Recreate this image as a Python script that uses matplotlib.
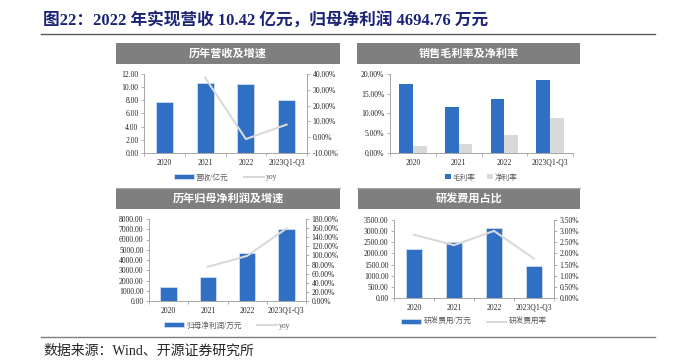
import numpy as np
import matplotlib
matplotlib.use('Agg')
import matplotlib.pyplot as plt
from matplotlib.patches import Rectangle
from matplotlib.ticker import FuncFormatter

plt.rcParams['font.family'] = ['Liberation Serif', 'Noto Sans CJK SC']

years = ['2020', '2021', '2022', '2023Q1-Q3']

revenue = [7.74, 10.60, 10.42, 8.04]          # 亿元
revenue_yoy = [None, 37.7, -1.2, 8.0]         # %

gross_margin = [17.55, 11.70, 13.75, 18.50]   # %
net_margin = [1.86, 2.30, 4.56, 8.78]         # %

net_profit = [1400, 2380, 4694.76, 7030]      # 万元
profit_yoy = [None, 75.0, 99.0, 159.0]        # %

rd_cost = [2220, 2530, 3160, 1450]            # 万元
rd_rate = [2.84, 2.37, 3.01, 1.77]            # %

W, H = 674, 361
BLUE = '#2F6FC4'
LGRAY = '#D9D9D9'
SPINE = '#A6A6A6'

fig = plt.figure(figsize=(W / 100, H / 100), dpi=100)


def box(x0, y0, x1, y1):
    return [x0 / W, 1 - y1 / H, (x1 - x0) / W, (y1 - y0) / H]


def hline(x0, x1, y, color, lw):
    fig.add_artist(plt.Line2D([x0 / W, x1 / W], [1 - y / H, 1 - y / H],
                              color=color, lw=lw, transform=fig.transFigure))


def title_box(x0, y0, x1, y1, text):
    fig.add_artist(Rectangle((x0 / W, 1 - y1 / H), (x1 - x0) / W, (y1 - y0) / H,
                             facecolor='#7F7F7F', edgecolor='none',
                             transform=fig.transFigure))
    fig.text((x0 + x1) / 2 / W, 1 - (y0 + y1) / 2 / H, text, color='white',
             fontsize=8, fontweight='bold', family='Noto Sans CJK SC',
             ha='center', va='center')


def style(ax, ax2):
    for a in (ax, ax2):
        for s in a.spines.values():
            s.set_color(SPINE)
            s.set_linewidth(0.7)
        a.spines['top'].set_visible(False)
        a.tick_params(axis='y', labelsize=5.5, colors=SPINE, labelcolor='#262626',
                      length=2, width=0.6, pad=2)
    ax.spines['right'].set_visible(False)
    ax2.spines['left'].set_visible(False)
    ax2.spines['bottom'].set_visible(False)
    x = np.arange(len(years))
    ax.set_xlim(-0.5, len(years) - 0.5)
    ax.set_xticks(np.arange(len(years) + 1) - 0.5)
    ax.set_xticklabels([])
    ax.tick_params(axis='x', which='major', length=2, width=0.6, colors=SPINE)
    ax.set_xticks(x, minor=True)
    ax.set_xticklabels(years, minor=True)
    ax.tick_params(axis='x', which='minor', length=0, labelsize=5.5,
                   labelcolor='#262626', pad=4)


def legend(ax, handles, labels, y):
    ax.legend(handles, labels, loc='center', bbox_to_anchor=(0.5, y),
              ncol=2, frameon=False, fontsize=5.5, handlelength=2.6,
              handleheight=0.6, columnspacing=2.0, handletextpad=0.3,
              labelcolor='#595959')


pct2 = FuncFormatter(lambda v, p: '%.2f%%' % v)
num2 = FuncFormatter(lambda v, p: '%.2f' % v)
x = np.arange(len(years))

# ---- main title / footer
fig.text(43 / W, 1 - 21 / H, '图22：2022 年实现营收 10.42 亿元，归母净利润 4694.76 万元',
         fontsize=12, fontweight='bold', color='#1C2478', va='center', ha='left')
hline(41, 655, 34, '#595959', 1.0)
hline(41, 655, 337, '#7F7F7F', 1.0)
fig.text(43 / W, 1 - 351 / H, '数据来源：Wind、开源证券研究所', fontsize=10,
         color='#262626', va='center', ha='left')

# ---- panel 1: revenue
title_box(116, 43, 340, 64, '历年营收及增速')
ax = fig.add_axes(box(144, 74, 307, 153))
ax2 = ax.twinx()
b = ax.bar(x, revenue, width=0.42, color=BLUE, edgecolor='#DCE6F2', linewidth=0.5)
yx = [i for i, v in enumerate(revenue_yoy) if v is not None]
l, = ax2.plot(yx, [revenue_yoy[i] for i in yx], color=LGRAY, lw=1.5)
ax.set_ylim(0, 12)
ax.set_yticks(np.arange(0, 12.1, 2))
ax.yaxis.set_major_formatter(num2)
ax2.set_ylim(-10, 40)
ax2.set_yticks(np.arange(-10, 40.1, 10))
ax2.yaxis.set_major_formatter(pct2)
style(ax, ax2)
legend(ax, [b, l], ['营收/亿元', 'yoy'], -0.31)
hline(116, 340, 188, '#A6A6A6', 0.8)

# ---- panel 2: margins
title_box(357, 43, 580, 64, '销售毛利率及净利率')
ax = fig.add_axes(box(390, 74, 573, 153))
ax2 = ax.twinx()
b1 = ax.bar(x - 0.15, gross_margin, width=0.3, color=BLUE)
b2 = ax.bar(x + 0.15, net_margin, width=0.3, color=LGRAY)
ax.set_ylim(0, 20)
ax.set_yticks(np.arange(0, 20.1, 5))
ax.yaxis.set_major_formatter(pct2)
ax2.set_yticks([])
style(ax, ax2)
ax2.spines['right'].set_visible(False)
ax.legend([b1, b2], ['毛利率', '净利率'], loc='center', bbox_to_anchor=(0.5, -0.31),
          ncol=2, frameon=False, fontsize=5.5, handlelength=0.7, handleheight=0.7,
          columnspacing=1.5, handletextpad=0.3, labelcolor='#595959')
hline(357, 580, 188, '#A6A6A6', 0.8)

# ---- panel 3: net profit
title_box(116, 188, 340, 209, '历年归母净利润及增速')
ax = fig.add_axes(box(149, 219, 306, 301))
ax2 = ax.twinx()
b = ax.bar(x, net_profit, width=0.42, color=BLUE, edgecolor='#DCE6F2', linewidth=0.5)
yx = [i for i, v in enumerate(profit_yoy) if v is not None]
l, = ax2.plot(yx, [profit_yoy[i] for i in yx], color=LGRAY, lw=1.5)
ax.set_ylim(0, 8000)
ax.set_yticks(np.arange(0, 8001, 1000))
ax.yaxis.set_major_formatter(num2)
ax2.set_ylim(0, 180)
ax2.set_yticks(np.arange(0, 180.1, 20))
ax2.yaxis.set_major_formatter(pct2)
style(ax, ax2)
legend(ax, [b, l], ['归母净利润/万元', 'yoy'], -0.30)

# ---- panel 4: R&D
title_box(358, 188, 580, 209, '研发费用占比')
ax = fig.add_axes(box(394, 220, 554, 298))
ax2 = ax.twinx()
b = ax.bar(x, rd_cost, width=0.42, color=BLUE, edgecolor='#DCE6F2', linewidth=0.5)
l, = ax2.plot(x, rd_rate, color=LGRAY, lw=1.5)
ax.set_ylim(0, 3500)
ax.set_yticks(np.arange(0, 3501, 500))
ax.yaxis.set_major_formatter(num2)
ax2.set_ylim(0, 3.5)
ax2.set_yticks(np.arange(0, 3.51, 0.5))
ax2.yaxis.set_major_formatter(pct2)
style(ax, ax2)
legend(ax, [b, l], ['研发费用/万元', '研发费用率'], -0.31)

fig.savefig('out.png', dpi=100)
